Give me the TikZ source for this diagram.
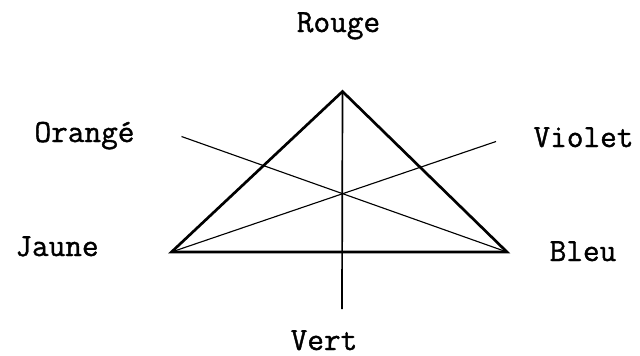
\documentclass[tikz,border=0pt]{standalone}
\usepackage{fontspec}
\newfontfamily\typew{Latin Modern Mono}[FakeBold=1.2]
\begin{document}
\begin{tikzpicture}[x=0.025cm, y=-0.025cm,
    side/.style={line width=1.9pt, line join=miter},
    axis/.style={line width=1.2pt},
    thin line/.style={line width=0.8pt},
    colour/.style={font=\typew\fontsize{23}{26}\selectfont, anchor=base, inner sep=0pt}]
    \useasboundingbox (0,0) rectangle (640,356);

    % Vertices and free ends
    \coordinate (r) at (342.5,91.5);
    \coordinate (j) at (171.5,252);
    \coordinate (b) at (507,252);
    \coordinate (o) at (342,194);
    \coordinate (oend) at (181.5,136.5);
    \coordinate (vend) at (496,141.5);
    \coordinate (vbot) at (342,309);

    % Lines through the centre
    \draw[thin line] (b) -- (oend);
    \draw[thin line] (j) -- (vend);
    \draw[axis] (r) -- (vbot);

    % Triangle
    \draw[side] (r) -- (j) -- (b) -- cycle;

    % Colour names
    \node[colour] (rouge) at (338.5,32) {Rouge};
    \node[colour] (orange) at (84.5,142) {Orangé};
    \node[colour] (violet) at (583.5,147) {Violet};
    \node[colour] (jaune) at (57,256) {Jaune};
    \node[colour] (bleu) at (583,261) {Bleu};
    \node[colour] (vert) at (324,350) {Vert};
\end{tikzpicture}
\end{document}
